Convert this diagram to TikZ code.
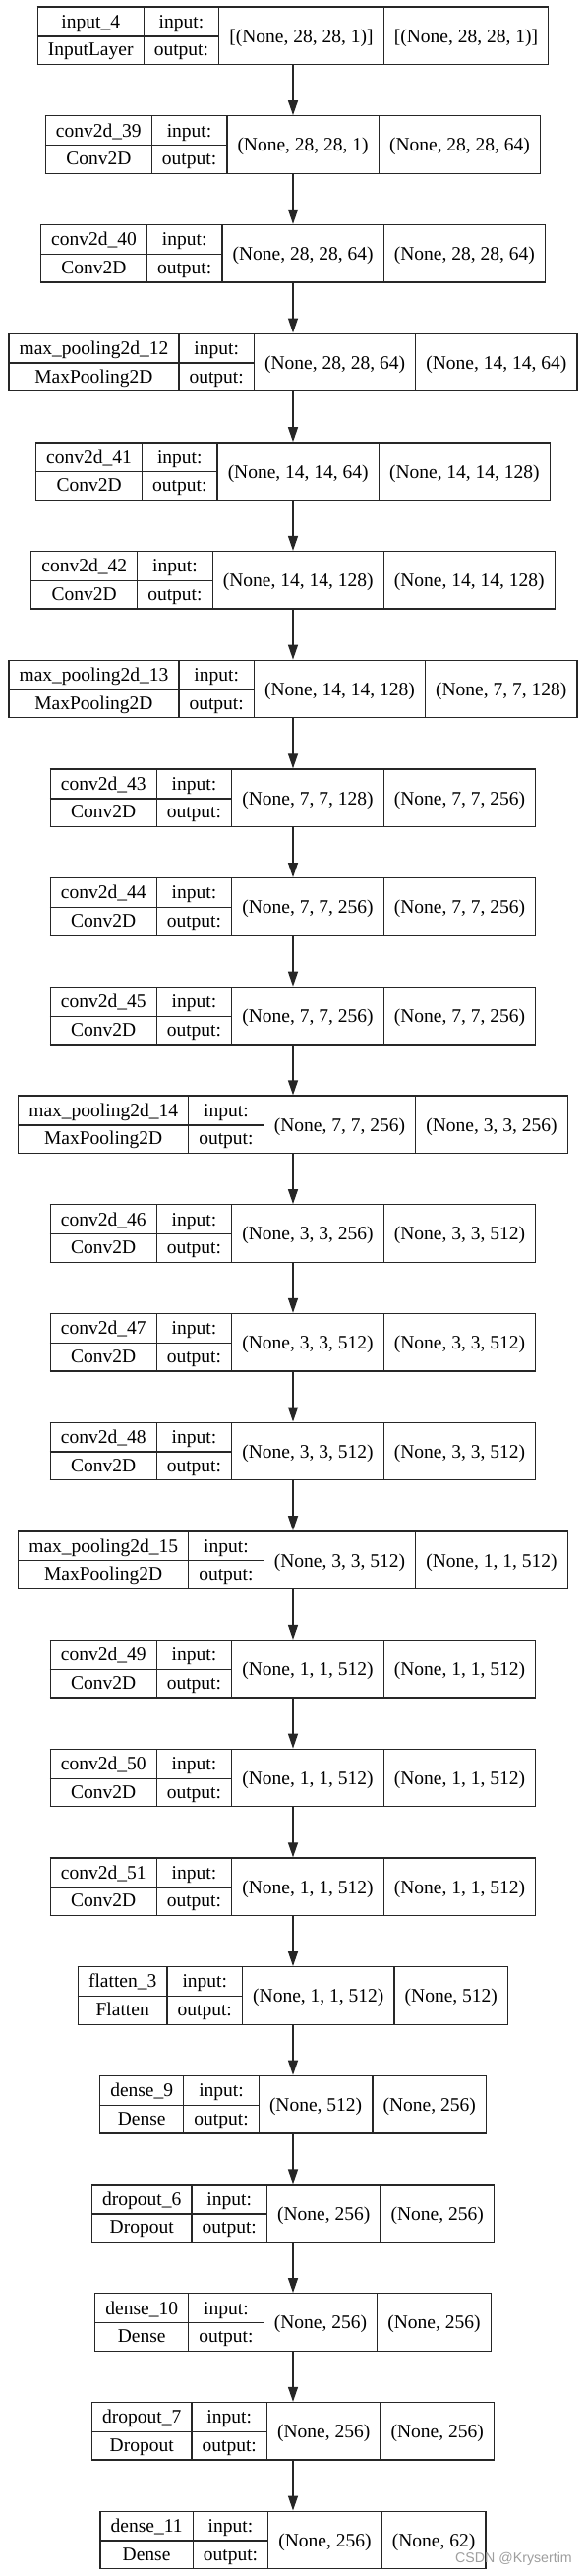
\documentclass[tikz,border=0pt]{standalone}
\usepackage{fontspec}
\setmainfont{Liberation Serif}
\newfontfamily\wmfont{Liberation Sans}
\usepackage{colortbl}
\usetikzlibrary{arrows.meta}

\newcommand{\rowstrut}{\rule[-8pt]{0pt}{28.6pt}}
\newcommand{\midshift}[1]{\raisebox{-14.95pt}[0pt][0pt]{#1}}
% one keras layer: index, name, class, input shape, output shape
\newcommand{\netlayer}[5]{%
  \node[layer] (L#1) at (298,{-36.3-110.7*#1}) {%
    \begin{tabular}{|c|c|c|c|}\hline
      \rowstrut #2 & input: & \midshift{#4} & \midshift{#5}\\ \cline{1-2}
      \rowstrut #3 & output: & & \\ \hline
    \end{tabular}};}

\tikzset{
  layer/.style={inner sep=0pt,outer sep=0pt,font=\fontsize{19.5pt}{22pt}\selectfont},
  edge/.style={line width=1.3pt,black!85,-{Triangle[length=15pt,width=10pt]}}
}

\begin{document}
\begin{tikzpicture}[x=1pt,y=1pt]
\useasboundingbox (0,0) rectangle (596,-2619);
\setlength{\tabcolsep}{10pt}
\setlength{\arrayrulewidth}{1.3pt}
\arrayrulecolor{black!85}
\netlayer{0}{input\_4}{InputLayer}{[(None, 28, 28, 1)]}{[(None, 28, 28, 1)]}
\netlayer{1}{conv2d\_39}{Conv2D}{(None, 28, 28, 1)}{(None, 28, 28, 64)}
\netlayer{2}{conv2d\_40}{Conv2D}{(None, 28, 28, 64)}{(None, 28, 28, 64)}
\netlayer{3}{max\_pooling2d\_12}{MaxPooling2D}{(None, 28, 28, 64)}{(None, 14, 14, 64)}
\netlayer{4}{conv2d\_41}{Conv2D}{(None, 14, 14, 64)}{(None, 14, 14, 128)}
\netlayer{5}{conv2d\_42}{Conv2D}{(None, 14, 14, 128)}{(None, 14, 14, 128)}
\netlayer{6}{max\_pooling2d\_13}{MaxPooling2D}{(None, 14, 14, 128)}{(None, 7, 7, 128)}
\netlayer{7}{conv2d\_43}{Conv2D}{(None, 7, 7, 128)}{(None, 7, 7, 256)}
\netlayer{8}{conv2d\_44}{Conv2D}{(None, 7, 7, 256)}{(None, 7, 7, 256)}
\netlayer{9}{conv2d\_45}{Conv2D}{(None, 7, 7, 256)}{(None, 7, 7, 256)}
\netlayer{10}{max\_pooling2d\_14}{MaxPooling2D}{(None, 7, 7, 256)}{(None, 3, 3, 256)}
\netlayer{11}{conv2d\_46}{Conv2D}{(None, 3, 3, 256)}{(None, 3, 3, 512)}
\netlayer{12}{conv2d\_47}{Conv2D}{(None, 3, 3, 512)}{(None, 3, 3, 512)}
\netlayer{13}{conv2d\_48}{Conv2D}{(None, 3, 3, 512)}{(None, 3, 3, 512)}
\netlayer{14}{max\_pooling2d\_15}{MaxPooling2D}{(None, 3, 3, 512)}{(None, 1, 1, 512)}
\netlayer{15}{conv2d\_49}{Conv2D}{(None, 1, 1, 512)}{(None, 1, 1, 512)}
\netlayer{16}{conv2d\_50}{Conv2D}{(None, 1, 1, 512)}{(None, 1, 1, 512)}
\netlayer{17}{conv2d\_51}{Conv2D}{(None, 1, 1, 512)}{(None, 1, 1, 512)}
\netlayer{18}{flatten\_3}{Flatten}{(None, 1, 1, 512)}{(None, 512)}
\netlayer{19}{dense\_9}{Dense}{(None, 512)}{(None, 256)}
\netlayer{20}{dropout\_6}{Dropout}{(None, 256)}{(None, 256)}
\netlayer{21}{dense\_10}{Dense}{(None, 256)}{(None, 256)}
\netlayer{22}{dropout\_7}{Dropout}{(None, 256)}{(None, 256)}
\netlayer{23}{dense\_11}{Dense}{(None, 256)}{(None, 62)}
\foreach \i [count=\j] in {0,...,22}
  \draw[edge] (L\i) -- (L\j);
\node[text=black!38,font=\wmfont\fontsize{14.2pt}{16pt}\selectfont] (mark) at (522.5,-2601.7) {CSDN @Krysertim};
\end{tikzpicture}
\end{document}
